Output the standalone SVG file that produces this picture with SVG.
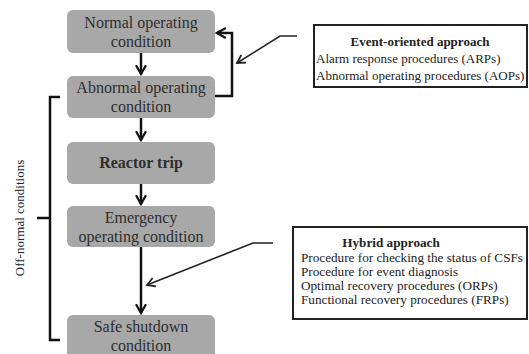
<svg xmlns="http://www.w3.org/2000/svg" width="529" height="354" viewBox="0 0 529 354">
<defs>
<style>
.box{fill:#a8a8a8;}
.bt{font-family:"Liberation Serif",serif;font-size:16px;fill:#2e2e2e;text-anchor:middle;}
.st{font-family:"Liberation Serif",serif;font-size:13px;fill:#222;}
.hs{font-family:"Liberation Serif",serif;font-size:13.2px;fill:#222;}
.line{fill:none;stroke:#111;stroke-width:2.5;}
.thin{fill:none;stroke:#222;stroke-width:1.6;}
.frame{fill:#fff;stroke:#222;stroke-width:2;}
</style>
<marker id="ah" viewBox="0 0 10 10" refX="8.5" refY="5" markerWidth="5" markerHeight="5" orient="auto" markerUnits="strokeWidth">
<path d="M1.5,1 L8.5,5 L1.5,9" fill="none" stroke="#111" stroke-width="1.8"/>
</marker>
<marker id="ahs" viewBox="0 0 10 10" refX="8.5" refY="5" markerWidth="7" markerHeight="7" orient="auto" markerUnits="strokeWidth">
<path d="M1.5,1 L8.5,5 L1.5,9" fill="none" stroke="#222" stroke-width="1.6"/>
</marker>
</defs>
<rect width="529" height="354" fill="#fff"/>
<g id="n-normal"><rect class="box" x="67" y="10" width="148" height="43" rx="6"/><text class="bt" x="141" y="28">Normal operating</text><text class="bt" x="141" y="47">condition</text></g>
<g id="n-abnormal"><rect class="box" x="67" y="76" width="148" height="42" rx="6"/><text class="bt" x="141" y="93">Abnormal operating</text><text class="bt" x="141" y="112">condition</text></g>
<g id="n-trip"><rect class="box" x="67" y="142" width="148" height="42" rx="6"/><text class="bt" x="141" y="168" font-weight="bold">Reactor trip</text></g>
<g id="n-emergency"><rect class="box" x="67" y="206" width="148" height="41" rx="6"/><text class="bt" x="141" y="223">Emergency</text><text class="bt" x="141" y="242">operating condition</text></g>
<g id="n-safe"><rect class="box" x="67" y="315" width="148" height="44" rx="6"/><text class="bt" x="141" y="332">Safe shutdown</text><text class="bt" x="141" y="351">condition</text></g>
<g id="n-event"><rect class="frame" x="314" y="25" width="213" height="62"/><text class="st" x="420" y="46" text-anchor="middle" font-weight="bold">Event-oriented  approach</text><text class="st" x="316" y="63">Alarm  response procedures (ARPs)</text><text class="st" x="316" y="80">Abnormal operating procedures (AOPs)</text></g>
<g id="n-hybrid"><rect class="frame" x="293" y="227" width="234" height="92"/><text class="hs" x="391" y="247" text-anchor="middle" font-weight="bold">Hybrid  approach</text><text class="hs" x="301" y="262">Procedure for checking  the status of CSFs</text><text class="hs" x="301" y="276">Procedure for event diagnosis</text><text class="hs" x="301" y="290">Optimal recovery procedures (ORPs)</text><text class="hs" x="301" y="304">Functional  recovery procedures (FRPs)</text></g>
<g id="n-offnormal"><text class="st" font-size="14px" x="0" y="0" text-anchor="middle" transform="translate(24,218) rotate(-90)">Off-normal conditions</text></g>
<g id="connectors">
<line class="line" x1="141" y1="53" x2="141" y2="74" marker-end="url(#ah)"/>
<line class="line" x1="141" y1="118" x2="141" y2="140" marker-end="url(#ah)"/>
<line class="line" x1="141" y1="184" x2="141" y2="204" marker-end="url(#ah)"/>
<line class="line" x1="141" y1="247" x2="141" y2="313" marker-end="url(#ah)"/>
<polyline class="line" points="215,96 232,96 232,33 217,33" marker-end="url(#ah)"/>
<polyline class="thin" points="297,36 280,36 237,63" marker-end="url(#ahs)"/>
<polyline class="thin" points="273,243 253,243 147,285" marker-end="url(#ahs)"/>
<polyline class="line" points="60,97 50,97 50,340 60,340"/>
<line class="line" x1="37" y1="218" x2="50" y2="218"/>
</g>
</svg>
